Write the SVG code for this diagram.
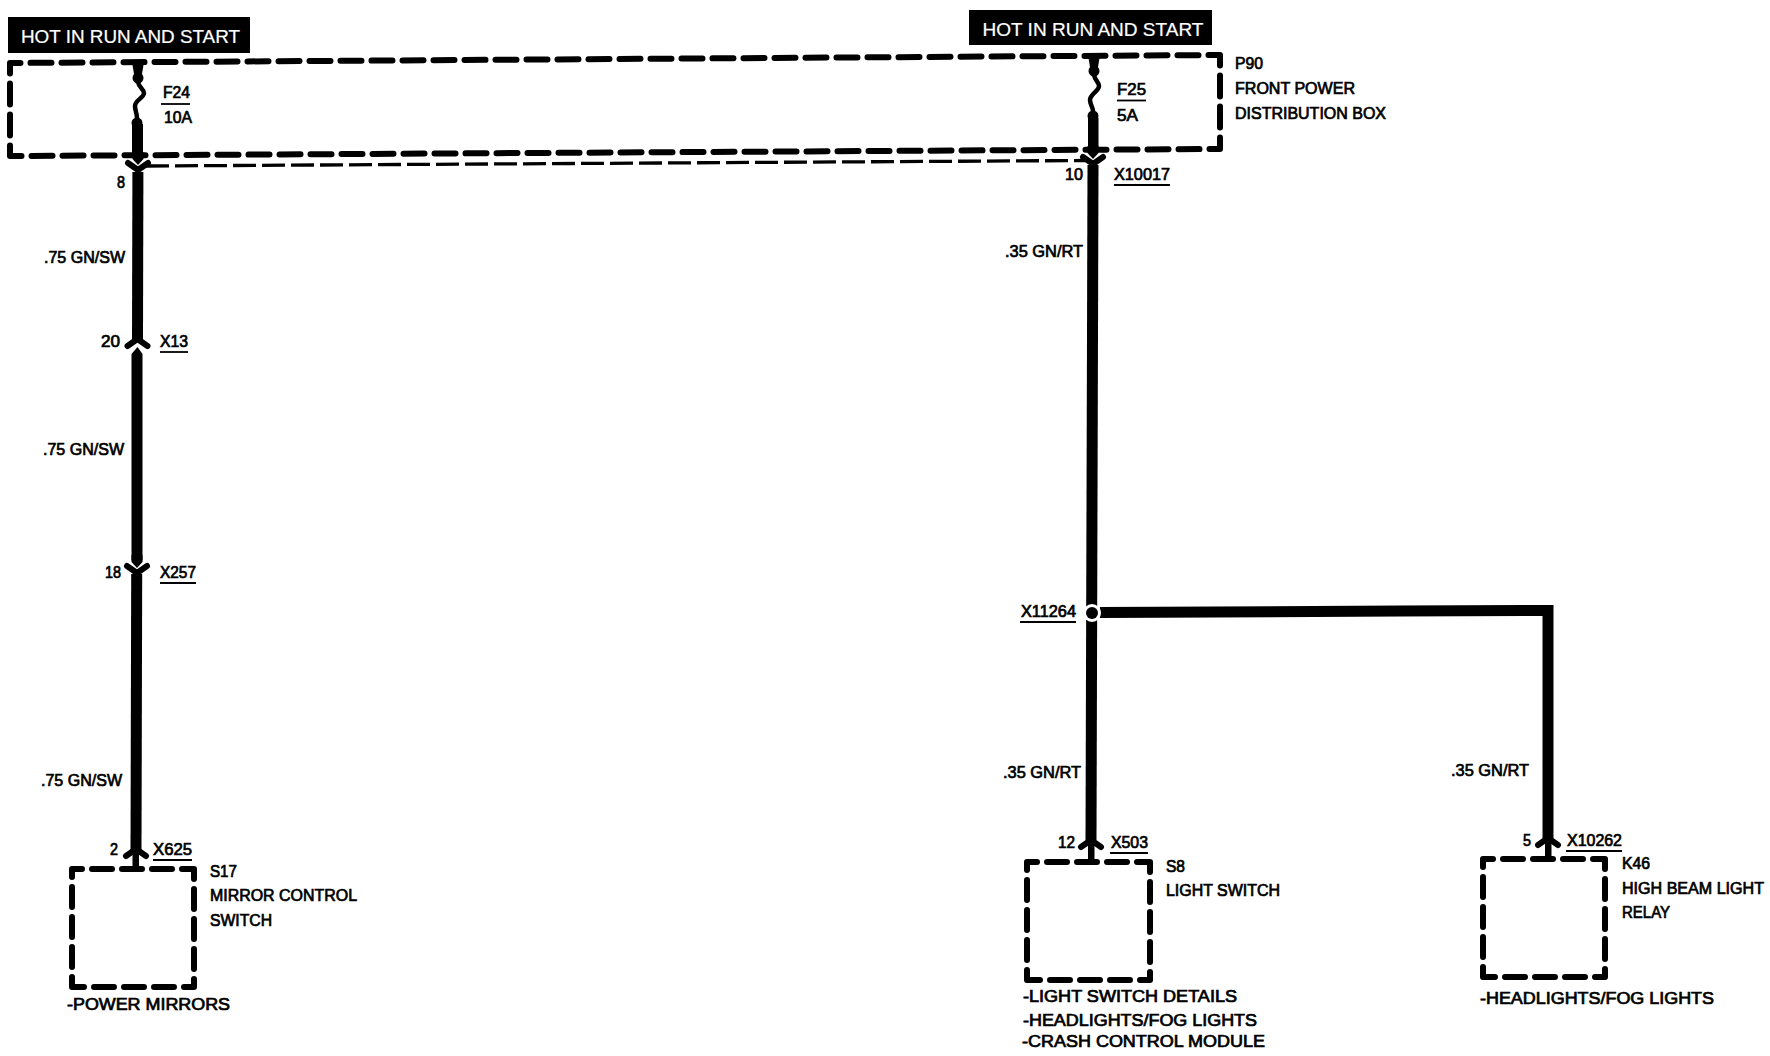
<svg xmlns="http://www.w3.org/2000/svg" xmlns:xlink="http://www.w3.org/1999/xlink" width="1770" height="1056" viewBox="0 0 1770 1056">
<style>
text{font-family:"Liberation Sans",Arial,sans-serif;font-size:16px;fill:#000;stroke:#000;stroke-width:.7px}
.ban{fill:#fff;stroke:#fff;stroke-width:.2px;font-size:17.5px}
.box{fill:none;stroke:#000;stroke-width:6;stroke-dasharray:20 10;stroke-dashoffset:10;stroke-linecap:round;stroke-linejoin:round}
.big{stroke-dasharray:21 10;stroke-dashoffset:10.5}
.wire{fill:none;stroke:#000;stroke-width:11}
.thin{fill:none;stroke:#000;stroke-width:4.5;stroke-linejoin:round}
.lead{fill:none;stroke:#000;stroke-width:3.3}
.chev{fill:none;stroke:#000;stroke-width:6;stroke-linecap:round;stroke-linejoin:round}
.ul{stroke:#000;stroke-width:1.8;fill:none}
</style>
<defs>
<g id="down"><path class="chev" d="M-10,-3 L0,4 L10,-3"/><path d="M-5.5,-14 L5.5,-14 L5.5,-7 L0,-1 L-5.5,-7Z"/></g>
<g id="up"><path class="chev" d="M-10,3 L0,-4 L10,3"/></g>
</defs>
<rect width="1770" height="1056" fill="#fff"/>
<g id="connectors">
<path class="wire" d="M137.9,172 L137.500,339"/>
<use xlink:href="#down" x="138" y="166"/>
<use xlink:href="#up" x="137.500" y="343"/>
<path d="M137.500,347 L142.500,354 L142.500,560 L137,567 L131.500,560 L131.500,354Z"/>
<use xlink:href="#down" transform="translate(137,569)"/>
<path class="wire" d="M136.700,574 L136,850"/>
<use xlink:href="#up" x="136" y="853"/>
<path d="M132.500,853 L139,853 L139,870 L132.500,870Z"/>
<path class="wire" d="M1093,165 L1091,840"/>
<use xlink:href="#down" x="1093" y="160"/>
<use xlink:href="#up" x="1091" y="844"/>
<path d="M1088,844 L1094.500,844 L1094.500,862 L1088,862Z"/>
<path class="wire" d="M1100,612.500 L1400,611 L1553,610.500"/>
<path class="wire" d="M1548,605 L1548,838"/>
<use xlink:href="#up" x="1548" y="842"/>
<path d="M1545,842 L1551.500,842 L1551.500,860 L1545,860Z"/>
<circle cx="1092" cy="613" r="9" fill="#fff"/>
<circle cx="1092" cy="613" r="6"/>
<path class="lead" stroke-dasharray="23 6" d="M146,166 L1085,160.500"/>
</g>
<g id="banner-left"><rect x="8" y="17" width="242" height="36"/><text class="ban" x="21" y="42.500" textLength="219" lengthAdjust="spacingAndGlyphs">HOT IN RUN AND START</text></g>
<g id="banner-right"><rect x="969" y="10" width="243" height="35"/><text class="ban" x="982.500" y="36" textLength="221" lengthAdjust="spacingAndGlyphs">HOT IN RUN AND START</text></g>
<g id="P90">
<path class="box big" d="M10,63 L1220,55 M1220,55 V149 M1220,149 L10,156 M10,156 V63"/>
<text x="1235" y="69" textLength="28" lengthAdjust="spacingAndGlyphs">P90</text>
<text x="1235" y="94" textLength="120" lengthAdjust="spacingAndGlyphs">FRONT POWER</text>
<text x="1235" y="119" textLength="151" lengthAdjust="spacingAndGlyphs">DISTRIBUTION BOX</text>
</g>
<g id="F24">
<path d="M132,62 L144,62 L142,74 L134,74Z"/><circle cx="138" cy="78" r="5.500"/>
<path class="thin" d="M138,82 C139,88 144,89 144,93 C144,98 135,100 135,106 C135,111 137,113 137,118"/>
<circle cx="137" cy="123" r="5.500"/>
<path d="M132,124 L143,124 L143,154 L138,163 L132,154Z"/>
<text x="163" y="98" textLength="27" lengthAdjust="spacingAndGlyphs">F24</text>
<path class="ul" d="M161,104 L190,104"/>
<text x="164" y="123" textLength="28" lengthAdjust="spacingAndGlyphs">10A</text>
</g>
<g id="F25">
<path d="M1088,55 L1100,55 L1098,67 L1090,67Z"/><circle cx="1094" cy="71" r="5.500"/>
<path class="thin" d="M1094,75 C1095,81 1099,82 1099,86 C1099,91 1090,94 1090,100 C1090,105 1093,107 1093,111"/>
<circle cx="1093" cy="116" r="5.500"/>
<path d="M1088,118 L1098.500,118 L1098.500,148 L1093,157 L1088,148Z"/>
<text x="1117" y="95" textLength="29" lengthAdjust="spacingAndGlyphs">F25</text>
<path class="ul" d="M1117,100.500 L1146,100.500"/>
<text x="1117" y="121" textLength="21" lengthAdjust="spacingAndGlyphs">5A</text>
</g>
<g id="X8"><text x="117" y="188" textLength="8" lengthAdjust="spacingAndGlyphs">8</text></g>
<g id="wire-labels">
<text x="44" y="263" textLength="81" lengthAdjust="spacingAndGlyphs">.75 GN/SW</text>
<text x="43" y="455" textLength="81" lengthAdjust="spacingAndGlyphs">.75 GN/SW</text>
<text x="41" y="786" textLength="81" lengthAdjust="spacingAndGlyphs">.75 GN/SW</text>
<text x="1005" y="257" textLength="78" lengthAdjust="spacingAndGlyphs">.35 GN/RT</text>
<text x="1003" y="778" textLength="78" lengthAdjust="spacingAndGlyphs">.35 GN/RT</text>
<text x="1451" y="776" textLength="78" lengthAdjust="spacingAndGlyphs">.35 GN/RT</text>
</g>
<g id="X13"><text x="101" y="347" textLength="19" lengthAdjust="spacingAndGlyphs">20</text><text x="160" y="347" textLength="28" lengthAdjust="spacingAndGlyphs">X13</text><path class="ul" d="M160,352 L188,352"/></g>
<g id="X257"><text x="105" y="578" textLength="16" lengthAdjust="spacingAndGlyphs">18</text><text x="160" y="578" textLength="36" lengthAdjust="spacingAndGlyphs">X257</text><path class="ul" d="M160,583 L196,583"/></g>
<g id="X625"><text x="110" y="855" textLength="8" lengthAdjust="spacingAndGlyphs">2</text><text x="153" y="855" textLength="39" lengthAdjust="spacingAndGlyphs">X625</text><path class="ul" d="M153,860 L192,860"/></g>
<g id="X10017"><text x="1065" y="180" textLength="18" lengthAdjust="spacingAndGlyphs">10</text><text x="1114" y="180" textLength="56" lengthAdjust="spacingAndGlyphs">X10017</text><path class="ul" d="M1114,185 L1170,185"/></g>
<g id="X11264"><text x="1021" y="617" textLength="55" lengthAdjust="spacingAndGlyphs">X11264</text><path class="ul" d="M1020,622 L1076,622"/></g>
<g id="X503"><text x="1058" y="848" textLength="17" lengthAdjust="spacingAndGlyphs">12</text><text x="1111" y="848" textLength="37" lengthAdjust="spacingAndGlyphs">X503</text><path class="ul" d="M1110,853 L1148,853"/></g>
<g id="X10262"><text x="1523" y="846" textLength="8" lengthAdjust="spacingAndGlyphs">5</text><text x="1567" y="846" textLength="55" lengthAdjust="spacingAndGlyphs">X10262</text><path class="ul" d="M1566,851 L1622,851"/></g>
<g id="S17">
<path class="box" d="M72,869 H194 M194,869 V987 M194,987 H72 M72,987 V869"/>
<text x="210" y="877" textLength="27" lengthAdjust="spacingAndGlyphs">S17</text>
<text x="210" y="901" textLength="147" lengthAdjust="spacingAndGlyphs">MIRROR CONTROL</text>
<text x="210" y="926" textLength="62" lengthAdjust="spacingAndGlyphs">SWITCH</text>
<text x="67" y="1010" textLength="163" lengthAdjust="spacingAndGlyphs">-POWER MIRRORS</text>
</g>
<g id="S8">
<path class="box" d="M1027,862 H1150 M1150,862 V980 M1150,980 H1027 M1027,980 V862"/>
<text x="1166" y="872" textLength="19" lengthAdjust="spacingAndGlyphs">S8</text>
<text x="1166" y="896" textLength="114" lengthAdjust="spacingAndGlyphs">LIGHT SWITCH</text>
<text x="1023" y="1002" textLength="214" lengthAdjust="spacingAndGlyphs">-LIGHT SWITCH DETAILS</text>
<text x="1023" y="1026" textLength="234" lengthAdjust="spacingAndGlyphs">-HEADLIGHTS/FOG LIGHTS</text>
<text x="1022" y="1047" textLength="243" lengthAdjust="spacingAndGlyphs">-CRASH CONTROL MODULE</text>
</g>
<g id="K46">
<path class="box" d="M1483,859 H1605 M1605,859 V977 M1605,977 H1483 M1483,977 V859"/>
<text x="1622" y="869" textLength="28" lengthAdjust="spacingAndGlyphs">K46</text>
<text x="1622" y="894" textLength="142" lengthAdjust="spacingAndGlyphs">HIGH BEAM LIGHT</text>
<text x="1622" y="918" textLength="48" lengthAdjust="spacingAndGlyphs">RELAY</text>
<text x="1480" y="1004" textLength="234" lengthAdjust="spacingAndGlyphs">-HEADLIGHTS/FOG LIGHTS</text>
</g>
</svg>
